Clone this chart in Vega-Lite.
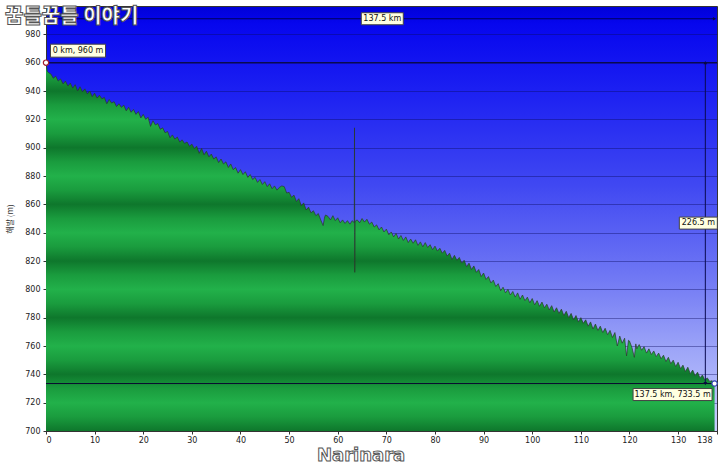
{
  "$schema": "https://vega.github.io/schema/vega-lite/v6.json",
  "width": 671,
  "height": 425,
  "autosize": "none",
  "padding": {"left": 46, "top": 6, "right": 3, "bottom": 35},
  "background": "white",
  "view": {
    "fill": {"gradient": "linear", "x1": 0, "y1": 0, "x2": 0, "y2": 1, "stops": [
      {"offset": 0, "color": "#0000d8"},
      {"offset": 0.04, "color": "#0606ee"},
      {"offset": 0.2, "color": "#1c20f2"},
      {"offset": 0.42, "color": "#4048f2"},
      {"offset": 0.63, "color": "#6e76f4"},
      {"offset": 0.82, "color": "#a0a8f8"},
      {"offset": 1, "color": "#c8ceff"}
    ]},
    "stroke": "#333",
    "strokeWidth": 1
  },
  "config": {
    "axis": {"labelFont": "DejaVu Sans", "labelFontSize": 8, "labelColor": "#222", "tickColor": "#333", "tickSize": 3, "domainColor": "#333", "titleFont": "Noto Sans CJK KR", "titleColor": "#333", "labelOverlap": false}
  },
  "datasets": {
    "profile": [
      {"km":0,"elev":960},{"km":0.25,"elev":954},{"km":0.5,"elev":953},{"km":1,"elev":952},{"km":1.5,"elev":949},{"km":2,"elev":950.5},{"km":2.5,"elev":947},{"km":3,"elev":948.5},{"km":3.5,"elev":945},{"km":4,"elev":947},{"km":4.5,"elev":943.5},{"km":5,"elev":945.5},{"km":5.5,"elev":942},{"km":6,"elev":944.5},{"km":6.5,"elev":940},{"km":7,"elev":943},{"km":7.5,"elev":939.5},{"km":8,"elev":941.5},{"km":8.5,"elev":938},{"km":9,"elev":940},{"km":9.5,"elev":936},{"km":10,"elev":938.5},{"km":10.5,"elev":935},{"km":11,"elev":937},{"km":11.5,"elev":934.5},{"km":12,"elev":935.5},{"km":12.5,"elev":931},{"km":13,"elev":934},{"km":13.5,"elev":931.5},{"km":14,"elev":932.5},{"km":14.5,"elev":929},{"km":15,"elev":931},{"km":15.5,"elev":928.5},{"km":16,"elev":930},{"km":16.5,"elev":926},{"km":17,"elev":928.5},{"km":17.5,"elev":925},{"km":18,"elev":927},{"km":18.5,"elev":923.5},{"km":19,"elev":925.5},{"km":19.5,"elev":921},{"km":20,"elev":923.5},{"km":20.5,"elev":920},{"km":21,"elev":921.5},{"km":21.5,"elev":915},{"km":22,"elev":919},{"km":22.5,"elev":916},{"km":23,"elev":917},{"km":23.5,"elev":913},{"km":24,"elev":914},{"km":24.5,"elev":910.5},{"km":25,"elev":911.5},{"km":25.5,"elev":907},{"km":26,"elev":909},{"km":26.5,"elev":906},{"km":27,"elev":907.5},{"km":27.5,"elev":904},{"km":28,"elev":905.5},{"km":28.5,"elev":903},{"km":29,"elev":904},{"km":29.5,"elev":901},{"km":30,"elev":902.5},{"km":30.5,"elev":899.5},{"km":31,"elev":901},{"km":31.5,"elev":896},{"km":32,"elev":899.5},{"km":32.5,"elev":895},{"km":33,"elev":897.5},{"km":33.5,"elev":893.5},{"km":34,"elev":895.5},{"km":34.5,"elev":892},{"km":35,"elev":893.5},{"km":35.5,"elev":889.5},{"km":36,"elev":892},{"km":36.5,"elev":888.5},{"km":37,"elev":890},{"km":37.5,"elev":886},{"km":38,"elev":888.5},{"km":38.5,"elev":884.5},{"km":39,"elev":886},{"km":39.5,"elev":882},{"km":40,"elev":884.5},{"km":40.5,"elev":881},{"km":41,"elev":883},{"km":41.5,"elev":879},{"km":42,"elev":881},{"km":42.5,"elev":877.5},{"km":43,"elev":879},{"km":43.5,"elev":875.5},{"km":44,"elev":877.5},{"km":44.5,"elev":874},{"km":45,"elev":876},{"km":45.5,"elev":872.5},{"km":46,"elev":874.5},{"km":46.5,"elev":871},{"km":47,"elev":873},{"km":47.5,"elev":870},{"km":48,"elev":872},{"km":48.5,"elev":873},{"km":49,"elev":872.5},{"km":49.5,"elev":868},{"km":50,"elev":868.5},{"km":50.5,"elev":865},{"km":51,"elev":866.5},{"km":51.5,"elev":862},{"km":52,"elev":864},{"km":52.5,"elev":859},{"km":53,"elev":861},{"km":53.5,"elev":856},{"km":54,"elev":858},{"km":54.5,"elev":854},{"km":55,"elev":855.5},{"km":55.5,"elev":852},{"km":56,"elev":853.5},{"km":56.5,"elev":849},{"km":57,"elev":845},{"km":57.3,"elev":851},{"km":57.5,"elev":852.5},{"km":58,"elev":851.5},{"km":58.5,"elev":849},{"km":59,"elev":852},{"km":59.5,"elev":848.5},{"km":60,"elev":850.5},{"km":60.5,"elev":847},{"km":61,"elev":849},{"km":61.5,"elev":846.5},{"km":62,"elev":848.5},{"km":62.5,"elev":846},{"km":63,"elev":848.5},{"km":63.4,"elev":847},{"km":63.45,"elev":914},{"km":63.5,"elev":812},{"km":63.55,"elev":848},{"km":64,"elev":849},{"km":64.5,"elev":847},{"km":65,"elev":850},{"km":65.5,"elev":847.5},{"km":66,"elev":849.5},{"km":66.5,"elev":846},{"km":67,"elev":847.5},{"km":67.5,"elev":844},{"km":68,"elev":845.5},{"km":68.5,"elev":842},{"km":69,"elev":844},{"km":69.5,"elev":840.5},{"km":70,"elev":842.5},{"km":70.5,"elev":838.5},{"km":71,"elev":840.5},{"km":71.5,"elev":837},{"km":72,"elev":839.5},{"km":72.5,"elev":835.5},{"km":73,"elev":838},{"km":73.5,"elev":834.5},{"km":74,"elev":837},{"km":74.5,"elev":833},{"km":75,"elev":835.5},{"km":75.5,"elev":832.5},{"km":76,"elev":835},{"km":76.5,"elev":831},{"km":77,"elev":833.5},{"km":77.5,"elev":830},{"km":78,"elev":833},{"km":78.5,"elev":829.5},{"km":79,"elev":831.5},{"km":79.5,"elev":828},{"km":80,"elev":830.5},{"km":80.5,"elev":827},{"km":81,"elev":829},{"km":81.5,"elev":825.5},{"km":82,"elev":827.5},{"km":82.5,"elev":823.5},{"km":83,"elev":825.5},{"km":83.5,"elev":821},{"km":84,"elev":824},{"km":84.5,"elev":820.5},{"km":85,"elev":822.5},{"km":85.5,"elev":818.5},{"km":86,"elev":820.5},{"km":86.5,"elev":816},{"km":87,"elev":818.5},{"km":87.5,"elev":814},{"km":88,"elev":816.5},{"km":88.5,"elev":812},{"km":89,"elev":814},{"km":89.5,"elev":809},{"km":90,"elev":811.5},{"km":90.5,"elev":807},{"km":91,"elev":809},{"km":91.5,"elev":804.5},{"km":92,"elev":806.5},{"km":92.5,"elev":802},{"km":93,"elev":804},{"km":93.5,"elev":799},{"km":94,"elev":801.5},{"km":94.5,"elev":797.5},{"km":95,"elev":800},{"km":95.5,"elev":796},{"km":96,"elev":798.5},{"km":96.5,"elev":794.5},{"km":97,"elev":797.5},{"km":97.5,"elev":793},{"km":98,"elev":796},{"km":98.5,"elev":792},{"km":99,"elev":794.5},{"km":99.5,"elev":790.5},{"km":100,"elev":793.5},{"km":100.5,"elev":789},{"km":101,"elev":792},{"km":101.5,"elev":788},{"km":102,"elev":791},{"km":102.5,"elev":787},{"km":103,"elev":789.5},{"km":103.5,"elev":785.5},{"km":104,"elev":788.5},{"km":104.5,"elev":784},{"km":105,"elev":787},{"km":105.5,"elev":783},{"km":106,"elev":786},{"km":106.5,"elev":781.5},{"km":107,"elev":784.5},{"km":107.5,"elev":780},{"km":108,"elev":783},{"km":108.5,"elev":778.5},{"km":109,"elev":781.5},{"km":109.5,"elev":777},{"km":110,"elev":780},{"km":110.5,"elev":776},{"km":111,"elev":778.5},{"km":111.5,"elev":774},{"km":112,"elev":777},{"km":112.5,"elev":772},{"km":113,"elev":775.5},{"km":113.5,"elev":771},{"km":114,"elev":774},{"km":114.5,"elev":769.5},{"km":115,"elev":772.5},{"km":115.5,"elev":768},{"km":116,"elev":771},{"km":116.5,"elev":766},{"km":117,"elev":769.5},{"km":117.5,"elev":760},{"km":118,"elev":767},{"km":118.5,"elev":762},{"km":119,"elev":765.5},{"km":119.4,"elev":753},{"km":119.8,"elev":764},{"km":120,"elev":763.5},{"km":120.5,"elev":759},{"km":121,"elev":752},{"km":121.3,"elev":761.5},{"km":121.5,"elev":758},{"km":122,"elev":761},{"km":122.5,"elev":757},{"km":123,"elev":759.5},{"km":123.5,"elev":755},{"km":124,"elev":758},{"km":124.5,"elev":754},{"km":125,"elev":756.5},{"km":125.5,"elev":752.5},{"km":126,"elev":755},{"km":126.5,"elev":751},{"km":127,"elev":753.5},{"km":127.5,"elev":749},{"km":128,"elev":752},{"km":128.5,"elev":747.5},{"km":129,"elev":750},{"km":129.5,"elev":745.5},{"km":130,"elev":748.5},{"km":130.5,"elev":744},{"km":131,"elev":746.5},{"km":131.5,"elev":742},{"km":132,"elev":745},{"km":132.5,"elev":740.5},{"km":133,"elev":743},{"km":133.5,"elev":739},{"km":134,"elev":741.5},{"km":134.5,"elev":737.5},{"km":135,"elev":739.5},{"km":135.5,"elev":736},{"km":136,"elev":737.5},{"km":136.5,"elev":735},{"km":137,"elev":735.5},{"km":137.5,"elev":733.5}
    ]
  },
  "layer": [
    {
      "data": {"name": "profile"},
      "mark": {
        "type": "area",
        "opacity": 1,
        "line": {"color": "#2a3a2a", "strokeWidth": 0.7},
        "color": {"gradient": "linear", "x1": 0, "y1": 0, "x2": 0, "y2": 1, "stops": [
          {"offset": 0, "color": "#22b14a"},
          {"offset": 0.0385, "color": "#1a9c3e"},
          {"offset": 0.0769, "color": "#0e772c"},
          {"offset": 0.1154, "color": "#1a9c3e"},
          {"offset": 0.1538, "color": "#22b14a"},
          {"offset": 0.1923, "color": "#1a9c3e"},
          {"offset": 0.2308, "color": "#0e772c"},
          {"offset": 0.2692, "color": "#1a9c3e"},
          {"offset": 0.3077, "color": "#22b14a"},
          {"offset": 0.3462, "color": "#1a9c3e"},
          {"offset": 0.3846, "color": "#0e772c"},
          {"offset": 0.4231, "color": "#1a9c3e"},
          {"offset": 0.4615, "color": "#22b14a"},
          {"offset": 0.5, "color": "#1a9c3e"},
          {"offset": 0.5385, "color": "#0e772c"},
          {"offset": 0.5769, "color": "#1a9c3e"},
          {"offset": 0.6154, "color": "#22b14a"},
          {"offset": 0.6538, "color": "#1a9c3e"},
          {"offset": 0.6923, "color": "#0e772c"},
          {"offset": 0.7308, "color": "#1a9c3e"},
          {"offset": 0.7692, "color": "#22b14a"},
          {"offset": 0.8077, "color": "#1a9c3e"},
          {"offset": 0.8462, "color": "#0e772c"},
          {"offset": 0.8846, "color": "#1a9c3e"},
          {"offset": 0.9231, "color": "#22b14a"},
          {"offset": 0.9615, "color": "#1a9c3e"},
          {"offset": 1, "color": "#0e772c"}
        ]}
      },
      "encoding": {
        "x": {
          "field": "km", "type": "quantitative",
          "scale": {"domain": [0, 138], "nice": false, "zero": false},
          "axis": {
            "values": [0, 10, 20, 30, 40, 50, 60, 70, 80, 90, 100, 110, 120, 130, 138],
            "tickCount": 30,
            "title": null, "grid": false, "labelPadding": 2,
            "labelOffset": {"condition": {"test": "datum.value === 138", "value": -5}, "value": 0}
          }
        },
        "y": {
          "field": "elev", "type": "quantitative",
          "scale": {"domain": [700, 1000], "nice": false, "zero": false},
          "axis": {
            "values": [700, 720, 740, 760, 780, 800, 820, 840, 860, 880, 900, 920, 940, 960, 980],
            "tickCount": 30,
            "title": "해발 (m)", "titleFontSize": 8, "titleFontWeight": "normal", "titlePadding": 10,
            "grid": true, "gridColor": "#0a0a60", "gridOpacity": 0.4, "labelPadding": 3
          }
        },
        "y2": {"datum": 700}
      }
    },
    {
      "data": {"values": [{"y": 960}, {"y": 733.5}]},
      "mark": {"type": "rule", "color": "#0a0a30", "strokeWidth": 1},
      "encoding": {"y": {"field": "y", "type": "quantitative"}}
    },
    {
      "data": {"values": [{"x0": 0, "x1": 137.5, "y": 991}]},
      "mark": {"type": "rule", "color": "#00005a", "strokeWidth": 1},
      "encoding": {
        "x": {"field": "x0", "type": "quantitative"},
        "x2": {"field": "x1"},
        "y": {"field": "y", "type": "quantitative"}
      }
    },
    {
      "data": {"values": [{"x": 135.6, "y0": 733.5, "y1": 960}]},
      "mark": {"type": "rule", "color": "#0a0a50", "strokeWidth": 1},
      "encoding": {
        "x": {"field": "x", "type": "quantitative"},
        "y": {"field": "y0", "type": "quantitative"},
        "y2": {"field": "y1"}
      }
    },
    {
      "data": {"values": [{"x": 135.6, "y": 960, "end": "top"}, {"x": 135.6, "y": 733.5, "end": "bottom"}, {"x": 137.5, "y": 991, "end": "right"}]},
      "mark": {"type": "point", "filled": true, "size": 14, "color": "#0a0a40", "opacity": 1},
      "encoding": {
        "x": {"field": "x", "type": "quantitative"},
        "y": {"field": "y", "type": "quantitative"},
        "shape": {"field": "end", "type": "nominal", "scale": {"domain": ["top", "bottom", "right"], "range": ["triangle-up", "triangle-down", "triangle-right"]}, "legend": null}
      }
    },
    {
      "data": {"values": [{"km": 0, "elev": 960, "end": "start"}, {"km": 137.5, "elev": 733.5, "end": "finish"}]},
      "mark": {"type": "point", "shape": "circle", "size": 28, "filled": true, "fill": "white", "opacity": 1, "strokeWidth": 1.2},
      "encoding": {
        "x": {"field": "km", "type": "quantitative"},
        "y": {"field": "elev", "type": "quantitative"},
        "stroke": {"field": "end", "type": "nominal", "scale": {"domain": ["start", "finish"], "range": ["#a02030", "#3040b0"]}, "legend": null}
      }
    },
    {
      "data": {"values": [{"km": 0, "elev": 960, "label": "0 km, 960 m"}]},
      "mark": {"type": "point", "shape": "M-1,-0.236H1V0.236H-1Z", "size": 3025, "filled": true, "fill": "#ffffe1", "stroke": "#444", "strokeWidth": 1, "opacity": 1, "xOffset": 32, "yOffset": -12},
      "encoding": {"x": {"field": "km", "type": "quantitative"}, "y": {"field": "elev", "type": "quantitative"}}
    },
    {
      "data": {"values": [{"km": 0, "elev": 960, "label": "0 km, 960 m"}]},
      "mark": {"type": "text", "dx": 32, "dy": -12, "font": "DejaVu Sans", "fontSize": 8, "color": "#111", "align": "center", "baseline": "middle"},
      "encoding": {"x": {"field": "km", "type": "quantitative"}, "y": {"field": "elev", "type": "quantitative"}, "text": {"field": "label"}}
    },
    {
      "data": {"values": [{"km": 68.75, "elev": 991, "label": "137.5 km"}]},
      "mark": {"type": "point", "shape": "M-1,-0.286H1V0.286H-1Z", "size": 1764, "filled": true, "fill": "#ffffe1", "stroke": "#444", "strokeWidth": 1, "opacity": 1, "xOffset": 2},
      "encoding": {"x": {"field": "km", "type": "quantitative"}, "y": {"field": "elev", "type": "quantitative"}}
    },
    {
      "data": {"values": [{"km": 68.75, "elev": 991, "label": "137.5 km"}]},
      "mark": {"type": "text", "dx": 2, "font": "DejaVu Sans", "fontSize": 8, "color": "#111", "align": "center", "baseline": "middle"},
      "encoding": {"x": {"field": "km", "type": "quantitative"}, "y": {"field": "elev", "type": "quantitative"}, "text": {"field": "label"}}
    },
    {
      "data": {"values": [{"km": 135.6, "elev": 846.75, "label": "226.5 m"}]},
      "mark": {"type": "point", "shape": "M-1,-0.316H1V0.316H-1Z", "size": 1444, "filled": true, "fill": "#ffffe1", "stroke": "#444", "strokeWidth": 1, "opacity": 1, "xOffset": -7},
      "encoding": {"x": {"field": "km", "type": "quantitative"}, "y": {"field": "elev", "type": "quantitative"}}
    },
    {
      "data": {"values": [{"km": 135.6, "elev": 846.75, "label": "226.5 m"}]},
      "mark": {"type": "text", "dx": -7, "font": "DejaVu Sans", "fontSize": 8, "color": "#111", "align": "center", "baseline": "middle"},
      "encoding": {"x": {"field": "km", "type": "quantitative"}, "y": {"field": "elev", "type": "quantitative"}, "text": {"field": "label"}}
    },
    {
      "data": {"values": [{"km": 137.5, "elev": 733.5, "label": "137.5 km, 733.5 m"}]},
      "mark": {"type": "point", "shape": "M-1,-0.152H1V0.152H-1Z", "size": 6241, "filled": true, "fill": "#ffffe1", "stroke": "#444", "strokeWidth": 1, "opacity": 1, "xOffset": -42, "yOffset": 11},
      "encoding": {"x": {"field": "km", "type": "quantitative"}, "y": {"field": "elev", "type": "quantitative"}}
    },
    {
      "data": {"values": [{"km": 137.5, "elev": 733.5, "label": "137.5 km, 733.5 m"}]},
      "mark": {"type": "text", "dx": -42, "dy": 11, "font": "DejaVu Sans", "fontSize": 8, "color": "#111", "align": "center", "baseline": "middle"},
      "encoding": {"x": {"field": "km", "type": "quantitative"}, "y": {"field": "elev", "type": "quantitative"}, "text": {"field": "label"}}
    },
    {
      "data": {"values": [{"t": "꿈틀꿈틀 이야기"}]},
      "mark": {"type": "text", "dx": -41, "dy": 11, "align": "left", "baseline": "middle", "font": "Noto Sans CJK KR", "fontWeight": 900, "fontSize": 20, "fill": "#ffffff", "stroke": "#555", "strokeWidth": 1},
      "encoding": {"x": {"datum": 0, "type": "quantitative"}, "y": {"datum": 1000, "type": "quantitative"}, "text": {"field": "t"}}
    },
    {
      "data": {"values": [{"t": "Narinara"}]},
      "mark": {"type": "text", "dy": 25, "align": "center", "baseline": "middle", "font": "DejaVu Sans", "fontWeight": "bold", "fontSize": 18, "fill": "#ffffff", "stroke": "#555", "strokeWidth": 1},
      "encoding": {"x": {"datum": 64.8, "type": "quantitative"}, "y": {"datum": 700, "type": "quantitative"}, "text": {"field": "t"}}
    }
  ]
}
